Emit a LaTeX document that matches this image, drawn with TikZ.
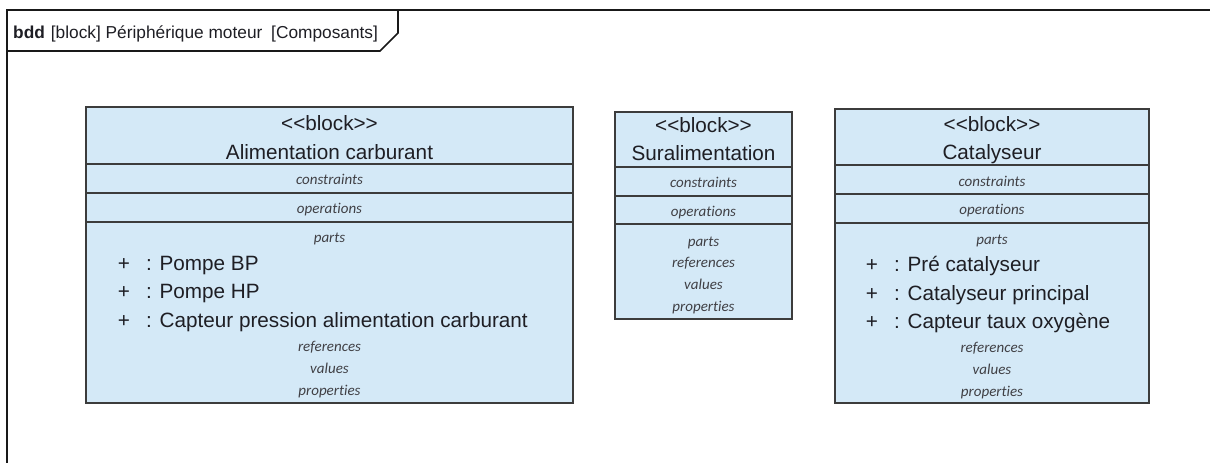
\documentclass[tikz,border=0pt]{standalone}
\usepackage{fontspec}
\setmainfont{Liberation Sans}
\newfontfamily\compfont[Ligatures={NoCommon}]{Carlito}
\definecolor{blockblue}{RGB}{212,233,247}
\definecolor{blockline}{RGB}{60,60,60}
\definecolor{txtcol}{RGB}{30,30,36}
\begin{document}
\begin{tikzpicture}[x=1pt,y=1pt,yscale=-1,
  frameline/.style={draw=black!90,line width=1.6pt},
  blockbox/.style={fill=blockblue,draw=blockline,line width=1.6pt},
  sepline/.style={draw=blockline,line width=1.4pt},
  bigtxt/.style={font=\fontsize{20.7}{24}\selectfont,text=txtcol,inner sep=0pt,anchor=base},
  parttxt/.style={bigtxt,anchor=base west},
  comptxt/.style={font=\compfont\itshape\fontsize{15}{17}\selectfont,text=txtcol!85,inner sep=0pt,anchor=base},
]
\useasboundingbox (0,0) rectangle (1210,463);

%Frame
\draw[frameline] (7,463) -- (7,10) -- (1210,10) ;
\draw[frameline] (398,10) -- (398,33) -- (380,51) -- (7,51) ;
\node[font=\fontsize{17.3}{19}\selectfont,text=txtcol,inner sep=0pt,anchor=base west] (title) at (13,38) {\textbf{bdd}\hspace{6pt}[block] Périphérique moteur\hspace{4pt} [Composants]};

%Shape: Rectangle  Alimentation carburant
\draw[blockbox] (86,107) -- (573,107) -- (573,403) -- (86,403) -- cycle ;
\draw[sepline] (86,164) -- (573,164) ;
\draw[sepline] (86,193) -- (573,193) ;
\draw[sepline] (86,222) -- (573,222) ;
\node[bigtxt] (alimst) at (329.5,130) {{<}{<}block{>}{>}};
\node[bigtxt] (alimname) at (329.5,159) {Alimentation carburant};
\node[comptxt] (alimcons) at (329.5,184) {constraints};
\node[comptxt] (alimops) at (329.5,213) {operations};
\node[comptxt] (alimparts) at (329.5,242) {parts};
\node[bigtxt] (alimpa) at (124,270) {+};
\node[parttxt] (alimpatxt) at (146,270) {: Pompe BP};
\node[bigtxt] (alimpb) at (124,298) {+};
\node[parttxt] (alimpbtxt) at (146,298) {: Pompe HP};
\node[bigtxt] (alimpc) at (124,327) {+};
\node[parttxt] (alimpctxt) at (146,327) {: Capteur pression alimentation carburant};
\node[comptxt] (alimrefs) at (329.5,351) {references};
\node[comptxt] (alimvals) at (329.5,373) {values};
\node[comptxt] (alimprops) at (329.5,395) {properties};

%Shape: Rectangle  Suralimentation
\draw[blockbox] (615,112) -- (792,112) -- (792,319) -- (615,319) -- cycle ;
\draw[sepline] (615,167) -- (792,167) ;
\draw[sepline] (615,196) -- (792,196) ;
\draw[sepline] (615,224) -- (792,224) ;
\node[bigtxt] (surst) at (703.5,132) {{<}{<}block{>}{>}};
\node[bigtxt] (surname) at (703.5,160) {Suralimentation};
\node[comptxt] (surcons) at (703.5,187) {constraints};
\node[comptxt] (surops) at (703.5,216) {operations};
\node[comptxt] (surparts) at (703.5,246) {parts};
\node[comptxt] (surrefs) at (703.5,267) {references};
\node[comptxt] (survals) at (703.5,289) {values};
\node[comptxt] (surprops) at (703.5,311) {properties};

%Shape: Rectangle  Catalyseur
\draw[blockbox] (835,109) -- (1149,109) -- (1149,403) -- (835,403) -- cycle ;
\draw[sepline] (835,165) -- (1149,165) ;
\draw[sepline] (835,194) -- (1149,194) ;
\draw[sepline] (835,223) -- (1149,223) ;
\node[bigtxt] (catst) at (992,131) {{<}{<}block{>}{>}};
\node[bigtxt] (catname) at (992,159) {Catalyseur};
\node[comptxt] (catcons) at (992,186) {constraints};
\node[comptxt] (catops) at (992,214) {operations};
\node[comptxt] (catparts) at (992,244) {parts};
\node[bigtxt] (catpa) at (872,271) {+};
\node[parttxt] (catpatxt) at (894,271) {: Pré catalyseur};
\node[bigtxt] (catpb) at (872,300) {+};
\node[parttxt] (catpbtxt) at (894,300) {: Catalyseur principal};
\node[bigtxt] (catpc) at (872,328) {+};
\node[parttxt] (catpctxt) at (894,328) {: Capteur taux oxygène};
\node[comptxt] (catrefs) at (992,352) {references};
\node[comptxt] (catvals) at (992,374) {values};
\node[comptxt] (catprops) at (992,396) {properties};

\end{tikzpicture}
\end{document}
